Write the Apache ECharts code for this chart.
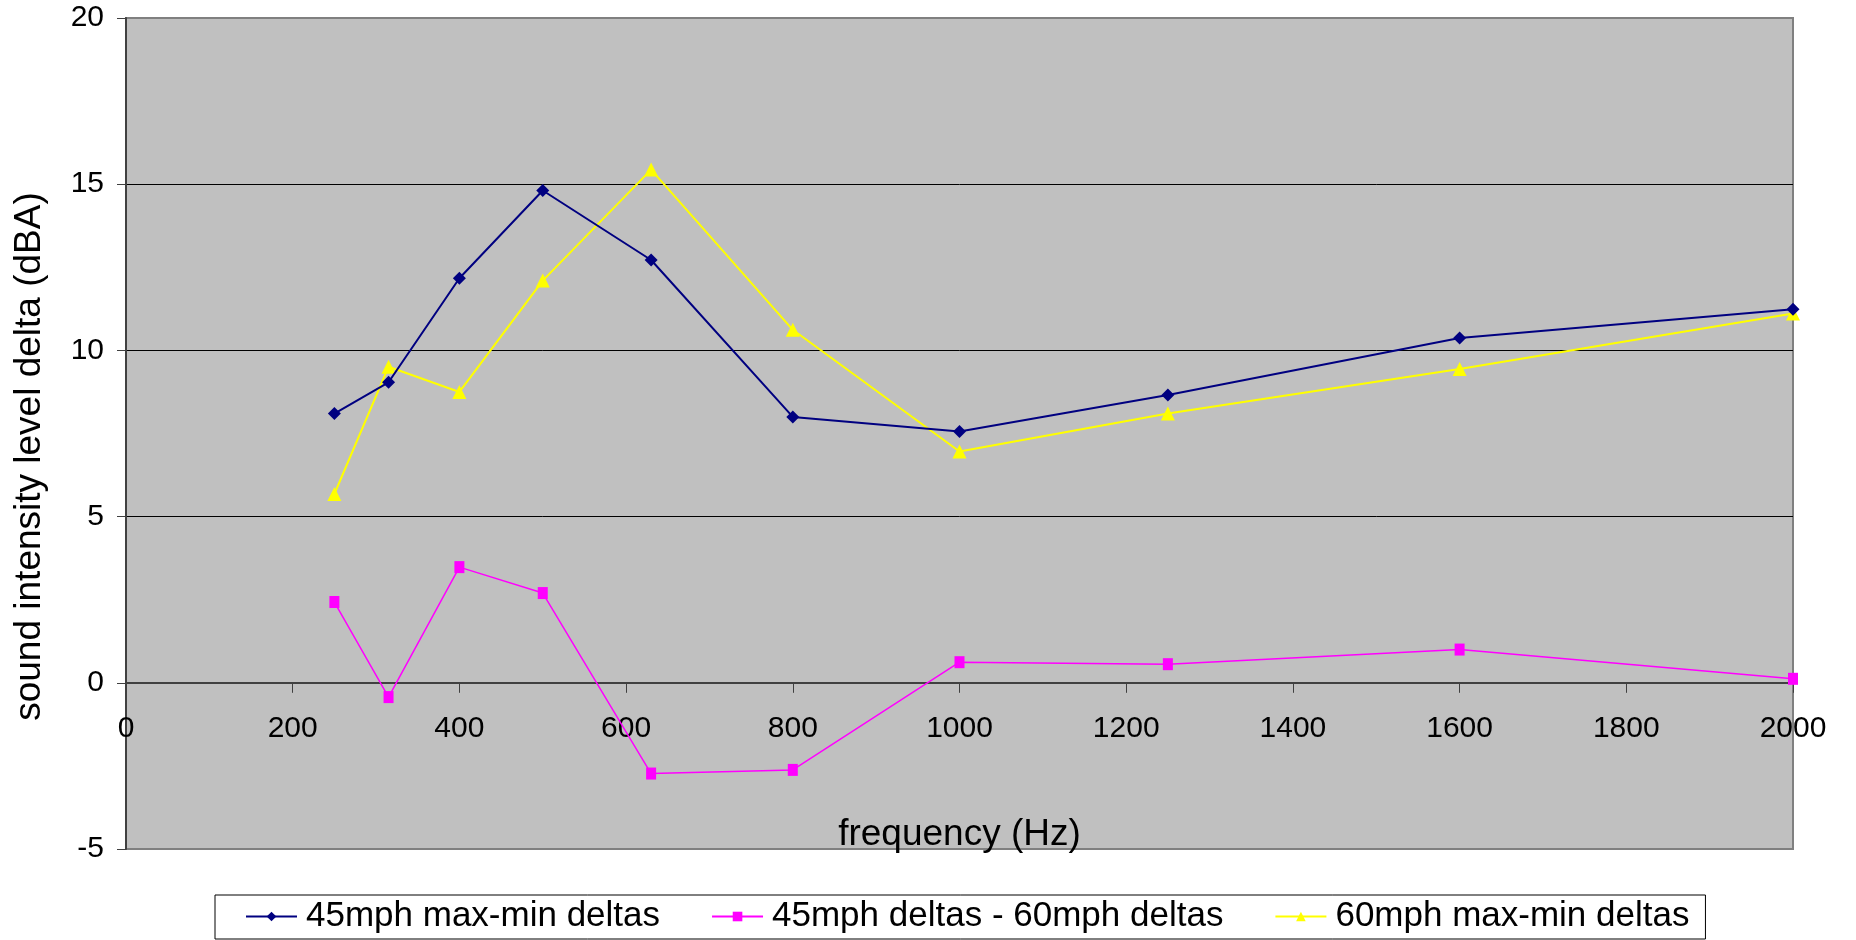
<!DOCTYPE html>
<html>
<head>
<meta charset="utf-8">
<title>sound intensity level delta</title>
<script src="https://cdn.jsdelivr.net/npm/echarts@6/dist/echarts.min.js"></script>
<style>
  html, body { margin: 0; padding: 0; background: #fff; }
  #chart { width: 1856px; height: 940px; }
</style>
</head>
<body>
<div id="chart"></div>
<script>
// one-third-octave band centre frequencies (Hz)
const frequencies = [250, 315, 400, 500, 630, 800, 1000, 1250, 1600, 2000];

// max-min level deltas (dBA) per band
const deltas45 = [8.10, 9.04, 12.17, 14.81, 12.72, 8.00, 7.56, 8.66, 10.37, 11.24];
const deltas60 = [5.68, 9.51, 8.75, 12.10, 15.44, 10.62, 6.96, 8.10, 9.44, 11.11];
const deltasDiff = [2.43, -0.43, 3.48, 2.70, -2.73, -2.62, 0.62, 0.56, 1.00, 0.12];

const seriesNames = ['45mph max-min deltas', '45mph deltas - 60mph deltas', '60mph max-min deltas'];

const xTicks = { min: 0, max: 2000, step: 200 };
const yTicks = { min: -5, max: 20, step: 5 };

const FONT = '"Liberation Sans", Arial, sans-serif';

// plot box in pixels
const GRID = { left: 126, top: 18, right: 63, bottom: 91 };
const CHART_H = 940;

function pairs(xs, ys) {
  return xs.map((x, i) => [x, ys[i]]);
}

// the frequency axis sits on the zero line: shift it up from the plot bottom
const plotH = CHART_H - GRID.top - GRID.bottom;
const zeroShift = plotH * (0 - yTicks.min) / (yTicks.max - yTicks.min);

const chart = echarts.init(document.getElementById('chart'), null, { renderer: 'canvas' });

chart.setOption({
  animation: false,
  backgroundColor: '#ffffff',
  textStyle: { fontFamily: FONT },
  grid: {
    left: GRID.left, top: GRID.top, right: GRID.right, bottom: GRID.bottom,
    containLabel: false,
    outerBoundsMode: 'none',
    show: true,
    backgroundColor: '#C0C0C0',
    borderColor: '#808080',
    borderWidth: 2
  },
  xAxis: {
    type: 'value',
    position: 'bottom',
    offset: -zeroShift,
    min: xTicks.min, max: xTicks.max, interval: xTicks.step,
    name: 'frequency (Hz)',
    nameLocation: 'middle',
    nameGap: 133,
    nameTextStyle: { fontFamily: FONT, fontSize: 37, color: '#000' },
    axisLine: { show: true, onZero: false, lineStyle: { color: '#404040', width: 2 } },
    axisTick: { show: true, inside: false, length: 10, lineStyle: { color: '#404040', width: 1 } },
    axisLabel: {
      fontFamily: FONT, fontSize: 30, color: '#000', margin: 31,
      formatter: v => String(v)
    },
    splitLine: { show: false }
  },
  yAxis: {
    type: 'value',
    min: yTicks.min, max: yTicks.max, interval: yTicks.step,
    name: 'sound intensity level delta (dBA)',
    nameLocation: 'middle',
    nameRotate: 90,
    nameGap: 78,
    nameTextStyle: { fontFamily: FONT, fontSize: 37, color: '#000', padding: [0, 46, 0, 0] },
    axisLine: { show: true, onZero: false, lineStyle: { color: '#404040', width: 2 } },
    axisTick: { show: true, inside: false, length: 9, lineStyle: { color: '#404040', width: 1 } },
    axisLabel: {
      fontFamily: FONT, fontSize: 30, color: '#000', margin: 22,
      formatter: v => String(v)
    },
    splitLine: {
      show: true, showMinLine: false, showMaxLine: false,
      lineStyle: { color: '#000000', width: 1 }
    }
  },
  legend: {
    show: true,
    left: 215, top: 895,
    orient: 'horizontal',
    itemWidth: 51, itemHeight: 12, itemGap: 51,
    padding: [4, 16, 5, 30],
    borderColor: '#000', borderWidth: 1,
    backgroundColor: '#fff',
    textStyle: { fontFamily: FONT, fontSize: 35, color: '#000', padding: [0, 0, 0, 4] },
    data: seriesNames
  },
  series: [
    {
      name: seriesNames[0], type: 'line',
      data: pairs(frequencies, deltas45),
      symbol: 'diamond', symbolSize: 13,
      lineStyle: { color: '#000080', width: 2 },
      itemStyle: { color: '#000080' },
      z: 3
    },
    {
      name: seriesNames[1], type: 'line',
      data: pairs(frequencies, deltasDiff),
      symbol: 'rect', symbolSize: [10, 12],
      lineStyle: { color: '#FF00FF', width: 1.5 },
      itemStyle: { color: '#FF00FF' },
      z: 2
    },
    {
      name: seriesNames[2], type: 'line',
      data: pairs(frequencies, deltas60),
      symbol: 'triangle', symbolSize: 14,
      lineStyle: { color: '#FFFF00', width: 2 },
      itemStyle: { color: '#FFFF00' },
      z: 2
    }
  ]
});
</script>
</body>
</html>
